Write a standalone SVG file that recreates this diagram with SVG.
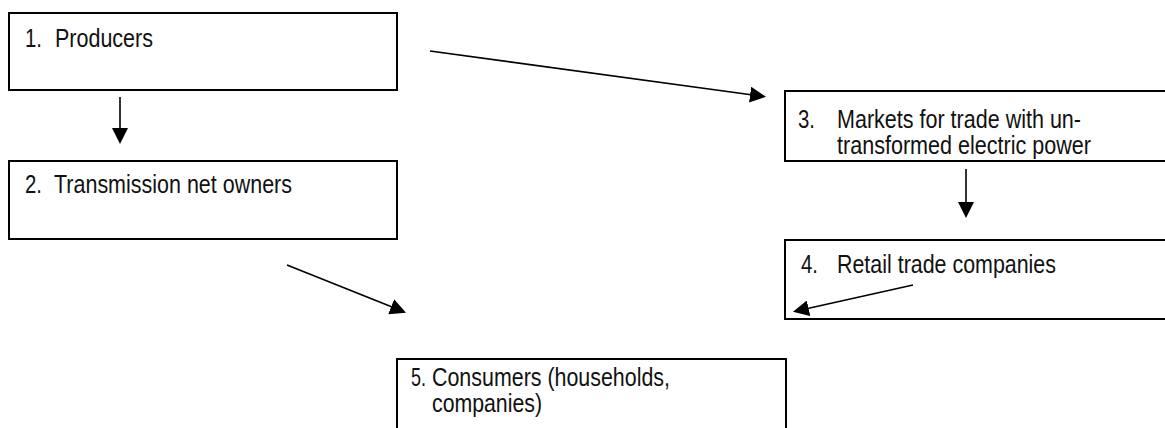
<svg xmlns="http://www.w3.org/2000/svg" width="1165" height="428" viewBox="0 0 1165 428">
  <style>
    .box { fill: #ffffff; stroke: #000000; stroke-width: 2; }
    .edge { fill: none; stroke: #000000; stroke-width: 2; }
    .conn { fill: none; stroke: #000000; stroke-width: 1.6; }
    .t { font-family: "Liberation Sans Narrow", "Liberation Sans", Arial, sans-serif; font-size: 25px; fill: #111111; }
  </style>
  <defs>
    <marker id="ah" viewBox="0 -8 16 16" markerWidth="16" markerHeight="16" refX="1" refY="0" orient="auto" markerUnits="userSpaceOnUse">
      <path d="M0,-8 L16,0 L0,8 Z" fill="#000000"/>
    </marker>
  </defs>
  <rect width="1165" height="428" fill="#ffffff"/>

  <g id="node1">
    <rect class="box" x="9" y="13" width="388" height="77"/>
    <text class="t" x="25" y="47" textLength="17" lengthAdjust="spacingAndGlyphs">1.</text>
    <text class="t" x="55" y="47" textLength="98" lengthAdjust="spacingAndGlyphs">Producers</text>
  </g>

  <g id="node2">
    <rect class="box" x="9" y="161" width="388" height="78"/>
    <text class="t" x="25" y="193" textLength="17" lengthAdjust="spacingAndGlyphs">2.</text>
    <text class="t" x="54" y="193" textLength="238" lengthAdjust="spacingAndGlyphs">Transmission net owners</text>
  </g>

  <g id="node3">
    <path class="edge" d="M1166,91 H785 V161 H1166"/>
    <text class="t" x="798" y="128" textLength="17" lengthAdjust="spacingAndGlyphs">3.</text>
    <text class="t" x="837" y="128" textLength="244" lengthAdjust="spacingAndGlyphs">Markets for trade with un-</text>
    <text class="t" x="837" y="154" textLength="254" lengthAdjust="spacingAndGlyphs">transformed electric power</text>
  </g>

  <g id="node4">
    <path class="edge" d="M1166,240 H785 V319 H1166"/>
    <text class="t" x="801" y="273" textLength="17" lengthAdjust="spacingAndGlyphs">4.</text>
    <text class="t" x="837" y="273" textLength="219" lengthAdjust="spacingAndGlyphs">Retail trade companies</text>
  </g>

  <g id="node5">
    <path class="edge" d="M397,430 V359 H786 V430"/>
    <text class="t" x="411" y="386" textLength="15" lengthAdjust="spacingAndGlyphs">5.</text>
    <text class="t" x="432" y="386" textLength="238" lengthAdjust="spacingAndGlyphs">Consumers (households,</text>
    <text class="t" x="432" y="412" textLength="110" lengthAdjust="spacingAndGlyphs">companies)</text>
  </g>

  <g id="connectors">
    <line class="conn" x1="120" y1="97" x2="120" y2="129" marker-end="url(#ah)"/>
    <line class="conn" x1="430" y1="51" x2="751.1" y2="94.8" marker-end="url(#ah)"/>
    <line class="conn" x1="966" y1="169" x2="966" y2="203" marker-end="url(#ah)"/>
    <line class="conn" x1="287" y1="265" x2="392.1" y2="307.1" marker-end="url(#ah)"/>
    <line class="conn" x1="913" y1="285" x2="807.6" y2="308.5" marker-end="url(#ah)"/>
  </g>
</svg>
